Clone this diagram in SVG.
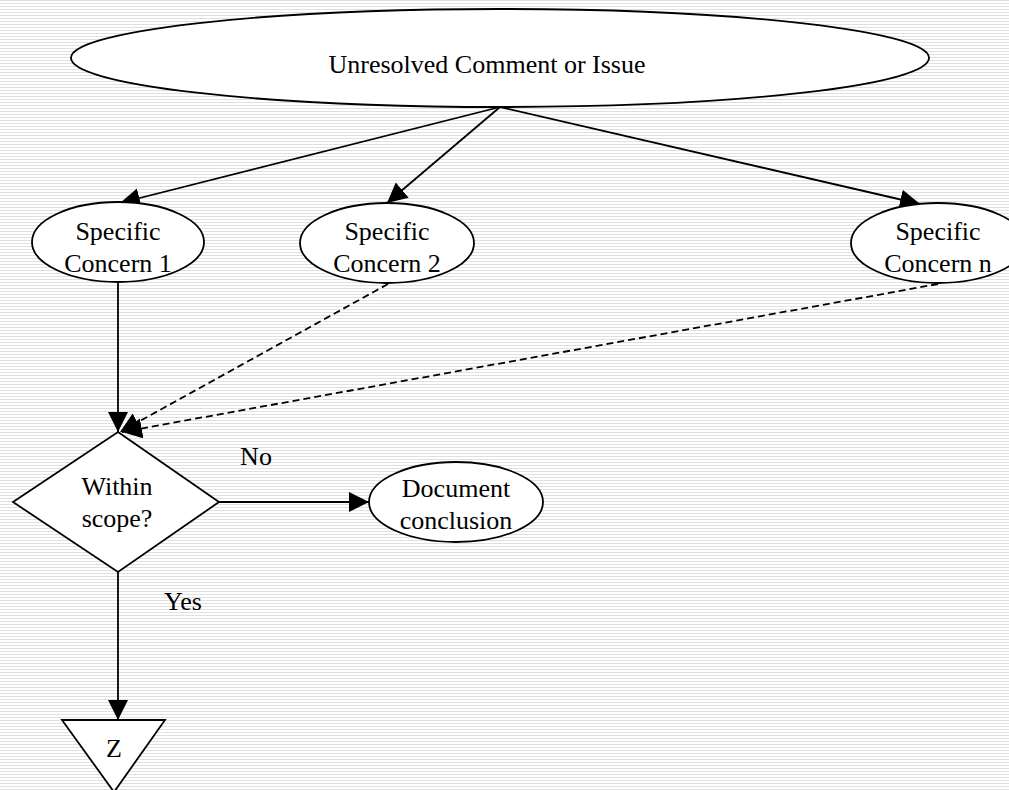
<svg xmlns="http://www.w3.org/2000/svg" width="1009" height="790" viewBox="0 0 1009 790">
  <defs>
    <pattern id="bg" width="8" height="3" patternUnits="userSpaceOnUse">
      <rect width="8" height="3" fill="#ffffff"/>
      <rect y="0" width="8" height="1" fill="#e0e0e0"/>
    </pattern>
    <marker id="arrow" markerUnits="userSpaceOnUse" markerWidth="22" markerHeight="22" refX="20" refY="10" orient="auto">
      <path d="M0,0 L20,10 L0,20 z" fill="#000"/>
    </marker>
  </defs>
  <style>
    .shape { fill: #ffffff; stroke: #000; stroke-width: 1.8; }
    .edge { fill: none; stroke: #000; stroke-width: 1.8; marker-end: url(#arrow); }
    .dash { stroke-dasharray: 7 4; }
    text { font-family: "Liberation Serif", "Times New Roman", serif; font-size: 26px; fill: #000; text-anchor: middle; }
  </style>
  <rect width="1009" height="790" fill="url(#bg)"/>

  <g id="connectors">
    <line class="edge" x1="500" y1="107" x2="120" y2="203"/>
    <line class="edge" x1="500" y1="107" x2="387" y2="203"/>
    <line class="edge" x1="500" y1="107" x2="920" y2="204"/>
    <line class="edge" x1="118" y1="282" x2="118" y2="432"/>
    <line class="edge dash" x1="388" y1="284" x2="120" y2="432"/>
    <line class="edge dash" x1="938" y1="284" x2="122" y2="432"/>
    <line class="edge" x1="219" y1="502" x2="369" y2="502"/>
    <line class="edge" x1="118" y1="572" x2="118" y2="720"/>
  </g>

  <g id="node-unresolved">
    <ellipse class="shape" cx="500" cy="58" rx="429" ry="49"/>
    <text x="487" y="73">Unresolved Comment or Issue</text>
  </g>

  <g id="node-concern1">
    <ellipse class="shape" cx="118" cy="242" rx="86" ry="40"/>
    <text x="118" y="240">Specific</text>
    <text x="118" y="272">Concern 1</text>
  </g>

  <g id="node-concern2">
    <ellipse class="shape" cx="387" cy="243" rx="87" ry="40"/>
    <text x="387" y="240">Specific</text>
    <text x="387" y="272">Concern 2</text>
  </g>

  <g id="node-concernn">
    <ellipse class="shape" cx="938" cy="243" rx="87" ry="40"/>
    <text x="938" y="240">Specific</text>
    <text x="938" y="272">Concern n</text>
  </g>

  <g id="node-scope">
    <polygon class="shape" points="118,432 219,502 118,572 13,502"/>
    <text x="117" y="495">Within</text>
    <text x="117" y="527">scope?</text>
  </g>

  <g id="label-no">
    <text x="256" y="465">No</text>
  </g>

  <g id="label-yes">
    <text x="183" y="610">Yes</text>
  </g>

  <g id="node-document">
    <ellipse class="shape" cx="456" cy="502" rx="87" ry="40"/>
    <text x="456" y="497">Document</text>
    <text x="456" y="529">conclusion</text>
  </g>

  <g id="node-z">
    <polygon class="shape" points="62,720 165,720 114,792"/>
    <text x="114" y="757">Z</text>
  </g>
</svg>
